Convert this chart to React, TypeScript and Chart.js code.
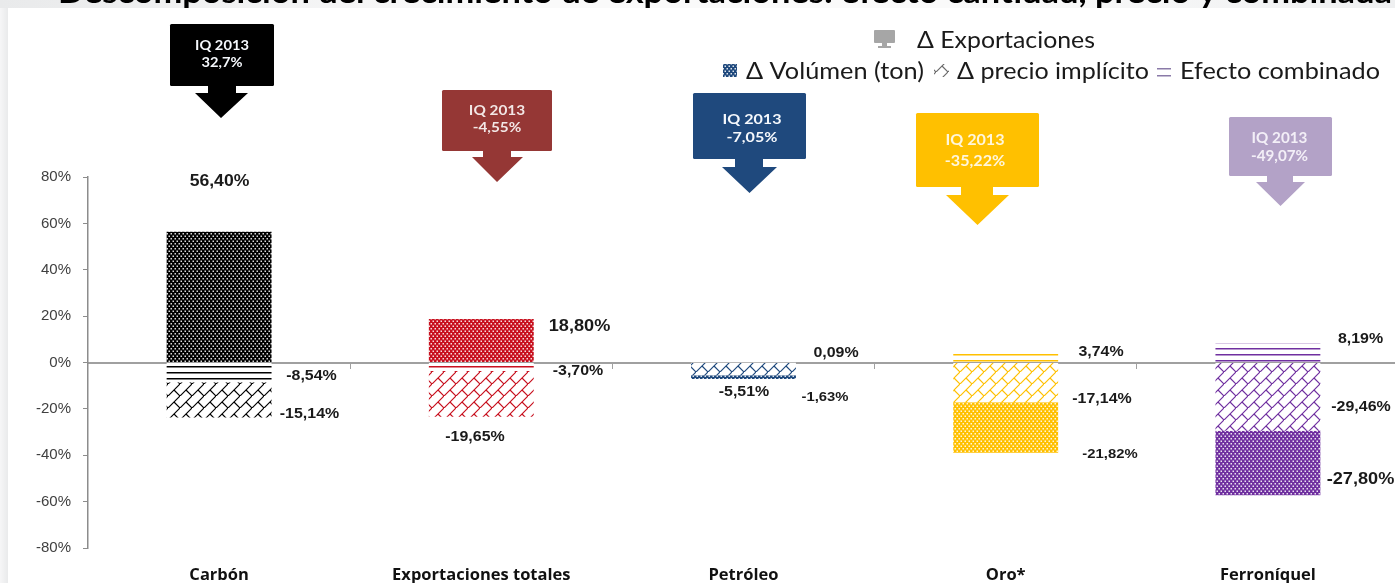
import React, { useEffect, useRef } from "react";
import { Chart, registerables } from "chart.js";

Chart.register(...registerables);

const categories = ["Carbón", "Exportaciones totales", "Petróleo", "Oro*", "Ferroníquel"];
const volumen = [56.4, 18.8, -1.63, -21.82, -27.8];
const precio = [-15.14, -19.65, -5.51, -17.14, -29.46];
const combinado = [-8.54, -3.7, 0.09, 3.74, 8.19];
const exportaciones = ["32,7%", "-4,55%", "-7,05%", "-35,22%", "-49,07%"];
const yTicks = [-80, -60, -40, -20, 0, 20, 40, 60, 80];
const barColors = ["#000000", "#C8101E", "#1F497D", "#FFC000", "#7030A0"];
const calloutColors = ["#000000", "#953735", "#1F497D", "#FFC000", "#B3A2C7"];

const TITLE = "Descomposición del crecimiento de exportaciones: efecto cantidad, precio y combinada";
const LATO = "Lato, 'Open Sans', sans-serif";
const ARIAL = "'Liberation Sans', Arial, sans-serif";

// Layout only (pixels): callout boxes and label placements
const calloutBoxes = [
  { l: 170, r: 274, t: 24, b: 86, sl: 208, sr: 236, hy: 93, hl: 195, hr: 248, tip: 118, cx: 221, tx: 222, y1: 45.5, y2: 62.5, size: 13, sx: 1.13 },
  { l: 442, r: 552, t: 90, b: 151, sl: 483, sr: 511, hy: 157, hl: 472, hr: 523, tip: 182, cx: 497, tx: 497, y1: 111, y2: 127.5, size: 13, sx: 1.18 },
  { l: 693, r: 806, t: 93, b: 159, sl: 735, sr: 763, hy: 167, hl: 722, hr: 777, tip: 193, cx: 749.5, tx: 752, y1: 119, y2: 137, size: 14, sx: 1.15 },
  { l: 916, r: 1039, t: 113, b: 187, sl: 961, sr: 993, hy: 195, hl: 946, hr: 1009, tip: 225, cx: 977.5, tx: 975, y1: 140, y2: 161, size: 15.5, sx: 1.04 },
  { l: 1229, r: 1332, t: 117, b: 176, sl: 1267, sr: 1293, hy: 182, hl: 1256, hr: 1305, tip: 206, cx: 1280.5, tx: 1279.5, y1: 138, y2: 156, size: 14.5, sx: 1.05 },
];

const labelPlaces = [
  [
    { v: volumen[0], cx: 219.5, y: 182, s: 16 },
    { v: combinado[0], cx: 311.5, y: 376, s: 14.5 },
    { v: precio[0], cx: 309.5, y: 414, s: 14.5 },
  ],
  [
    { v: volumen[1], cx: 579.5, y: 326, s: 16.5 },
    { v: combinado[1], cx: 578, y: 371, s: 14.5 },
    { v: precio[1], cx: 475, y: 437, s: 14.5 },
  ],
  [
    { v: combinado[2], cx: 836, y: 353, s: 14.5 },
    { v: precio[2], cx: 744, y: 392, s: 14.5 },
    { v: volumen[2], cx: 825, y: 397, s: 13.5 },
  ],
  [
    { v: combinado[3], cx: 1101, y: 352, s: 14.5 },
    { v: precio[3], cx: 1102, y: 399, s: 14.5 },
    { v: volumen[3], cx: 1110, y: 454, s: 13.5 },
  ],
  [
    { v: combinado[4], cx: 1360.5, y: 339, s: 14.5 },
    { v: precio[4], cx: 1361, y: 407, s: 14.5 },
    { v: volumen[4], cx: 1360.5, y: 479, s: 16.5 },
  ],
];

const fmt = (v: number) => v.toFixed(2).replace(".", ",") + "%";

function tile(w: number, h: number, draw: (c: CanvasRenderingContext2D) => void) {
  const cv = document.createElement("canvas");
  cv.width = w;
  cv.height = h;
  const c = cv.getContext("2d") as CanvasRenderingContext2D;
  c.fillStyle = "#ffffff";
  c.fillRect(0, 0, w, h);
  draw(c);
  return (document.createElement("canvas").getContext("2d") as CanvasRenderingContext2D).createPattern(cv, "repeat") as CanvasPattern;
}

const dotPattern = (color: string) =>
  tile(4, 5, (c) => {
    c.fillStyle = color;
    c.fillRect(0, 0, 4, 5);
    c.fillStyle = "rgba(255,255,255,0.85)";
    c.fillRect(0.5, 0.5, 1.5, 1.5);
    c.fillRect(2.5, 3, 1.5, 1.5);
  });

const shinglePattern = (color: string) =>
  tile(12, 12, (c) => {
    c.strokeStyle = color;
    c.lineWidth = 1.2;
    c.beginPath();
    c.moveTo(-1, 13);
    c.lineTo(13, -1);
    c.moveTo(6, 6);
    c.lineTo(12, 12);
    c.stroke();
  });

const linePattern = (color: string) =>
  tile(6, 6, (c) => {
    c.fillStyle = color;
    c.fillRect(0, 0, 6, 1.5);
  });

function fitText(
  ctx: CanvasRenderingContext2D,
  text: string,
  x0: number,
  x1: number,
  base: number,
  font: string,
  color: string
) {
  ctx.save();
  ctx.font = font;
  ctx.fillStyle = color;
  ctx.textAlign = "left";
  ctx.textBaseline = "alphabetic";
  const w = ctx.measureText(text).width;
  ctx.translate(x0, base);
  ctx.scale((x1 - x0) / w, 1);
  ctx.fillText(text, 0, 0);
  ctx.restore();
}

function centerText(
  ctx: CanvasRenderingContext2D,
  text: string,
  cx: number,
  cy: number,
  font: string,
  color: string,
  sx = 1
) {
  ctx.save();
  ctx.font = font;
  ctx.fillStyle = color;
  ctx.textAlign = "center";
  ctx.textBaseline = "middle";
  ctx.translate(cx, cy);
  ctx.scale(sx, 1);
  ctx.fillText(text, 0, 0);
  ctx.restore();
}

const backdrop = {
  id: "backdrop",
  beforeDraw(chart: any) {
    const ctx: CanvasRenderingContext2D = chart.ctx;
    ctx.save();
    ctx.fillStyle = "#ffffff";
    ctx.fillRect(0, 0, chart.width, chart.height);
    const top = ctx.createLinearGradient(0, 0, 1395, 0);
    top.addColorStop(0, "#e9eaeb");
    top.addColorStop(0.35, "#fafafa");
    top.addColorStop(0.7, "#fafafa");
    top.addColorStop(1, "#eff0f1");
    ctx.fillStyle = top;
    ctx.fillRect(0, 0, 1395, 8);
    const left = ctx.createLinearGradient(0, 0, 8, 0);
    left.addColorStop(0, "#f6f6f7");
    left.addColorStop(1, "#e9eaeb");
    ctx.fillStyle = left;
    ctx.fillRect(0, 8, 8, 575);
    ctx.beginPath();
    ctx.rect(0, 0, 1395, 8);
    ctx.clip();
    fitText(ctx, TITLE, 58, 1392, 3, `bold 31px ${LATO}`, "#000000");
    ctx.restore();
  },
};

const overlay = {
  id: "overlay",
  afterDraw(chart: any) {
    const ctx: CanvasRenderingContext2D = chart.ctx;
    // Callouts
    calloutBoxes.forEach((b, i) => {
      ctx.save();
      ctx.fillStyle = calloutColors[i];
      ctx.beginPath();
      ctx.roundRect(b.l, b.t, b.r - b.l, b.b - b.t, 1.5);
      ctx.fill();
      ctx.beginPath();
      ctx.moveTo(b.sl, b.b - 1);
      ctx.lineTo(b.sr, b.b - 1);
      ctx.lineTo(b.sr, b.hy);
      ctx.lineTo(b.hr, b.hy);
      ctx.lineTo(b.cx, b.tip);
      ctx.lineTo(b.hl, b.hy);
      ctx.lineTo(b.sl, b.hy);
      ctx.closePath();
      ctx.fill();
      ctx.restore();
      const tc = i === 1 ? "#f2e6e5" : i === 4 ? "#f3eff7" : i === 3 ? "#fff6dc" : "#f5f8fc";
      centerText(ctx, "IQ 2013", b.tx, b.y1, `bold ${b.size}px ${LATO}`, tc, b.sx);
      centerText(ctx, exportaciones[i], b.tx, b.y2, `bold ${b.size}px ${LATO}`, tc, b.sx);
    });
    // Value labels
    labelPlaces.forEach((group) =>
      group.forEach((l) => {
        centerText(ctx, fmt(l.v), l.cx, l.y, `bold ${l.s}px ${ARIAL}`, "#1a1a1a", 1.1);
      })
    );
    // Legend
    ctx.save();
    ctx.fillStyle = "#a6a6a6";
    ctx.beginPath();
    ctx.roundRect(874, 30, 21, 13, 1);
    ctx.fill();
    ctx.fillRect(882, 43, 5, 3);
    ctx.fillRect(878, 46, 13, 2);
    ctx.restore();
    fitText(ctx, "Δ Exportaciones", 917, 1095, 48, `24px ${LATO}`, "#1a1a1a");

    ctx.save();
    ctx.fillStyle = dotPattern("#1F497D");
    ctx.fillRect(723, 64, 14, 13);
    ctx.fillStyle = shinglePattern("#6b6b6b");
    ctx.fillRect(934, 64, 15, 13);
    ctx.fillStyle = "#8a7aa8";
    ctx.fillRect(1157, 68, 14, 1.5);
    ctx.fillRect(1157, 75, 14, 1.5);
    ctx.restore();
    fitText(ctx, "Δ Volúmen (ton)", 746, 924, 79, `24px ${LATO}`, "#1a1a1a");
    fitText(ctx, "Δ precio implícito", 957, 1149, 79, `24px ${LATO}`, "#1a1a1a");
    fitText(ctx, "Efecto combinado", 1180, 1380, 79, `24px ${LATO}`, "#1a1a1a");
  },
};

export default function App() {
  const ref = useRef<HTMLCanvasElement>(null);

  useEffect(() => {
    document.body.style.margin = "0";
    const chart = new Chart(ref.current as HTMLCanvasElement, {
      type: "bar",
      data: {
        labels: categories,
        datasets: [
          {
            label: "Efecto combinado",
            data: combinado,
            backgroundColor: barColors.map(linePattern),
            borderWidth: 0,
          },
          {
            label: "Δ precio implícito",
            data: precio,
            backgroundColor: barColors.map(shinglePattern),
            borderWidth: 0,
          },
          {
            label: "Δ Volúmen (ton)",
            data: volumen,
            backgroundColor: barColors.map(dotPattern),
            borderWidth: 0,
          },
        ],
      },
      options: {
        responsive: false,
        animation: false,
        layout: { padding: { top: 177, bottom: 0, left: 0, right: 1 } },
        plugins: { legend: { display: false }, title: { display: false }, tooltip: { enabled: false } },
        datasets: { bar: { categoryPercentage: 1, barPercentage: 0.4 } },
        scales: {
          x: {
            stacked: true,
            border: { display: false },
            grid: { display: false },
            ticks: {
              color: "#111111",
              padding: 9,
              maxRotation: 0,
              autoSkip: false,
              font: { family: "Open Sans", weight: "bold", size: 16.5 },
            },
            afterFit(scale: any) {
              scale.height = 35;
            },
          },
          x2: {
            position: { y: 0 },
            type: "category",
            offset: true,
            border: { display: true, color: "#a0a0a0", width: 2 },
            grid: { drawOnChartArea: false, drawTicks: true, tickLength: 5, color: "#a0a0a0", offset: true },
            ticks: { display: false },
            afterFit(scale: any) {
              scale.height = 0;
            },
          } as any,
          y: {
            stacked: true,
            min: -80,
            max: 80,
            afterBuildTicks(scale: any) {
              scale.ticks = yTicks.map((value) => ({ value }));
            },
            border: { display: true, color: "#8c8c8c", width: 1.5 },
            grid: { drawOnChartArea: false, drawTicks: true, tickLength: 5, color: "#8c8c8c" },
            ticks: {
              color: "#404040",
              padding: 12,
              font: { family: "Liberation Sans", size: 15 },
              callback: (v: any) => `${v}%`,
            },
            afterFit(scale: any) {
              scale.width = 88;
            },
          },
        },
      } as any,
      plugins: [backdrop, overlay],
    });
    return () => chart.destroy();
  }, []);

  return (
    <div style={{ width: 1395, height: 583, overflow: "hidden", position: "relative" }}>
      <canvas ref={ref} width={1400} height={583} style={{ display: "block" }} />
    </div>
  );
}
